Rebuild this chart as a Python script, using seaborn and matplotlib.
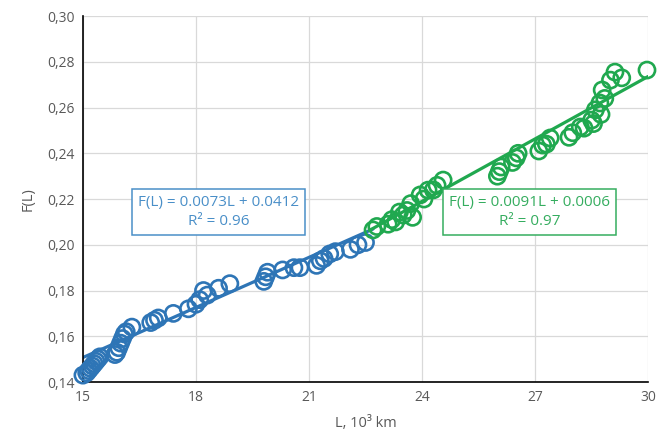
import numpy as np
import pandas as pd
import matplotlib
matplotlib.use("Agg")
import matplotlib.pyplot as plt
from matplotlib.ticker import FuncFormatter
import seaborn as sns

# ---- data ----
blue_L = [15.0, 15.1, 15.15, 15.2, 15.25, 15.3, 15.35, 15.4, 15.45,
          15.85, 15.9, 15.95, 16.0, 16.05, 16.1, 16.15, 16.3,
          16.8, 16.9, 17.0, 17.4, 17.8, 18.0, 18.1, 18.3, 18.2, 18.6, 18.9,
          19.8, 19.85, 19.9, 20.3, 20.6, 20.76, 21.2, 21.3, 21.4, 21.55, 21.7,
          22.1, 22.3, 22.5]
blue_F = [0.143, 0.144, 0.145, 0.146, 0.147, 0.148, 0.149, 0.150, 0.151,
          0.152, 0.153, 0.155, 0.157, 0.159, 0.161, 0.162, 0.164,
          0.166, 0.167, 0.168, 0.170, 0.172, 0.174, 0.176, 0.178, 0.180, 0.181, 0.183,
          0.184, 0.186, 0.188, 0.189, 0.190, 0.190, 0.191, 0.193, 0.194, 0.196, 0.197,
          0.198, 0.200, 0.201]
green_L = [22.7, 22.8, 23.1, 23.2, 23.3, 23.4, 23.5, 23.6, 23.7, 23.75,
           23.95, 24.05, 24.16, 24.3, 24.4, 24.56,
           26.0, 26.05, 26.1, 26.4, 26.5, 26.55,
           27.1, 27.2, 27.3, 27.4, 27.9, 28.0, 28.2, 28.3, 28.5, 28.55, 28.6,
           28.72, 28.75, 28.78, 28.85, 29.0, 29.12, 29.3, 29.97]
green_F = [0.2065, 0.208, 0.209, 0.211, 0.210, 0.2143, 0.213, 0.215, 0.218, 0.212,
           0.2218, 0.220, 0.2239, 0.224, 0.226, 0.2283,
           0.230, 0.232, 0.234, 0.236, 0.238, 0.240,
           0.241, 0.2436, 0.244, 0.2467, 0.247, 0.249, 0.2515, 0.251, 0.2545, 0.253, 0.259,
           0.262, 0.257, 0.2677, 0.264, 0.272, 0.2755, 0.273, 0.2764]

series_names = ["blue", "green"]
slopes = [0.0073, 0.0091]
intercepts = [0.0412, 0.0006]
fit_ranges = [(15.0, 22.7), (22.6, 30.0)]
eq_labels = ["F(L) = 0.0073L + 0.0412\nR² = 0.96",
             "F(L) = 0.0091L + 0.0006\nR² = 0.97"]
x_ticks = [15, 18, 21, 24, 27, 30]
y_ticks = [0.14, 0.16, 0.18, 0.20, 0.22, 0.24, 0.26, 0.28, 0.30]

colors = {"blue": "#2e75b6", "green": "#20a84f"}
text_colors = {"blue": "#4a8fc8", "green": "#35ad5f"}

df = pd.DataFrame({
    "L": blue_L + green_L,
    "F": blue_F + green_F,
    "series": ["blue"] * len(blue_L) + ["green"] * len(green_L),
})

sns.set_style("white")
plt.rcParams["font.family"] = ["Open Sans", "DejaVu Sans"]

fig = plt.figure(figsize=(6.58, 4.47), dpi=100)
ax = fig.add_axes([0.126, 0.1454, 0.859, 0.8186])

for i, name in enumerate(series_names):
    x0, x1 = fit_ranges[i]
    xs = np.array([x0, x1])
    ax.plot(xs, slopes[i] * xs + intercepts[i], color=colors[name], lw=2.3, zorder=2)

sns.scatterplot(data=df, x="L", y="F", hue="series", palette=colors,
                marker="o", s=135, linewidth=1.9,
                ax=ax, legend=False, zorder=3)
for coll in ax.collections:
    fc = coll.get_facecolors()
    coll.set_edgecolors(fc)
    coll.set_facecolors("none")
    coll.set_clip_on(False)

ax.set_xlim(15, 30)
ax.set_ylim(0.14, 0.30)
ax.set_xticks(x_ticks)
ax.set_yticks(y_ticks)
ax.yaxis.set_major_formatter(FuncFormatter(lambda v, p: f"{v:.2f}".replace(".", ",")))
ax.grid(True, color="#d9d9d9", lw=0.9)
ax.set_axisbelow(True)
for s in ["top", "right"]:
    ax.spines[s].set_visible(False)
for s in ["left", "bottom"]:
    ax.spines[s].set_color("black")
    ax.spines[s].set_linewidth(1.2)
ax.tick_params(axis="both", colors="#595959", labelsize=10, length=0, pad=6)
ax.set_xlabel("L, 10³ km", color="#595959", fontsize=10.5, labelpad=8)
ax.set_ylabel("F(L)", color="#595959", fontsize=10.5, labelpad=8)

box_pos = [(18.6, 0.2143), (26.85, 0.2143)]
for i, name in enumerate(series_names):
    ax.text(box_pos[i][0], box_pos[i][1], eq_labels[i], ha="center", va="center",
            color=text_colors[name], fontsize=11, linespacing=1.3, zorder=5,
            bbox=dict(boxstyle="square,pad=0.4", fc="white", ec=text_colors[name], lw=1.1))

fig.savefig("out.png", dpi=100)
